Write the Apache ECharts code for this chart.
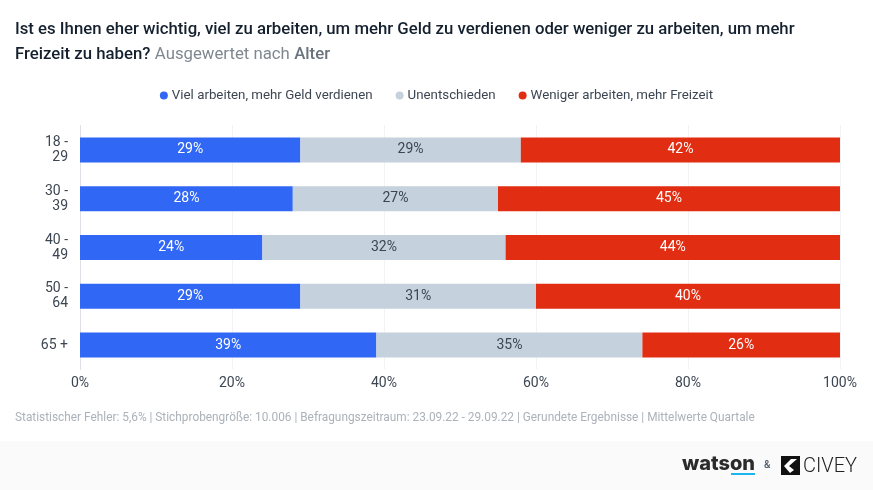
<!DOCTYPE html>
<html>
<head>
<meta charset="utf-8">
<style>
html, body { margin: 0; padding: 0; background: #fff; }
#chart { width: 873px; height: 490px; }
</style>
<script src="https://cdn.jsdelivr.net/npm/echarts@6/dist/echarts.min.js"></script>
</head>
<body>
<div id="chart"></div>
<script>
const categories = ['18 -\n29', '30 -\n39', '40 -\n49', '50 -\n64', '65 +'];
const seriesNames = ['Viel arbeiten, mehr Geld verdienen', 'Unentschieden', 'Weniger arbeiten, mehr Freizeit'];
const mehrGeld = [29, 28, 24, 29, 39];
const unentschieden = [29, 27, 32, 31, 35];
const mehrFreizeit = [42, 45, 44, 40, 26];
const colors = ['#3067f4', '#c5d1dc', '#e12d12'];
const labelColors = ['#ffffff', '#3c4652', '#ffffff'];
const font = 'Roboto';

const footnote = 'Statistischer Fehler: 5,6% | Stichprobengröße: 10.006 | Befragungszeitraum: 23.09.22 - 29.09.22 | Gerundete Ergebnisse | Mittelwerte Quartale';

const chart = echarts.init(document.getElementById('chart'), null, { renderer: 'canvas' });

function barSeries(i, values) {
    return {
        name: seriesNames[i],
        type: 'bar',
        stack: 'total',
        data: values,
        barWidth: 25,
        itemStyle: { color: colors[i] },
        label: {
            show: true,
            position: 'inside',
            formatter: '{c}%',
            fontFamily: font,
            fontSize: 14,
            color: labelColors[i]
        }
    };
}

chart.setOption({
    animation: false,
    backgroundColor: '#ffffff',
    textStyle: { fontFamily: font },
    title: {
        left: 10,
        top: 12,
        text: '{b|Ist es Ihnen eher wichtig, viel zu arbeiten, um mehr Geld zu verdienen oder weniger zu arbeiten, um mehr}\n{b|Freizeit zu haben?} {g|Ausgewertet nach} {m|Alter}',
        textStyle: {
            rich: {
                b: { fontFamily: font, fontSize: 16.75, fontWeight: 500, color: '#14202e', lineHeight: 25 },
                g: { fontFamily: font, fontSize: 16.75, fontWeight: 400, color: '#7f8891', lineHeight: 25 },
                m: { fontFamily: font, fontSize: 16.75, fontWeight: 500, color: '#6a737c', lineHeight: 25 }
            }
        }
    },
    legend: {
        top: 84,
        left: 'center',
        icon: 'circle',
        itemWidth: 8,
        itemHeight: 8,
        itemGap: 23,
        textStyle: { fontFamily: font, fontSize: 13.3, color: '#3c4652', padding: [0, 0, 0, -1] },
        data: seriesNames
    },
    grid: { left: 80, right: 33, top: 125.5, bottom: 120.5 },
    xAxis: {
        type: 'value',
        min: 0,
        max: 100,
        interval: 20,
        axisLine: { show: false },
        axisTick: { show: false },
        axisLabel: { formatter: '{value}%', fontFamily: font, fontSize: 14, color: '#3c4652', margin: 7 },
        splitLine: { show: true, lineStyle: { color: '#e3e7eb', type: 'dotted', width: 1 } }
    },
    yAxis: {
        type: 'category',
        inverse: true,
        data: categories,
        axisLine: { show: true, lineStyle: { color: '#dde1e5', width: 1 } },
        axisTick: { show: false },
        axisLabel: { fontFamily: font, fontSize: 14, color: '#3c4652', lineHeight: 15, margin: 12, align: 'right' }
    },
    series: [
        barSeries(0, mehrGeld),
        barSeries(1, unentschieden),
        barSeries(2, mehrFreizeit)
    ],
    graphic: [
        { type: 'rect', z: -1, shape: { x: 0, y: 441, width: 873, height: 49 }, style: { fill: '#fafafa' } },
        { type: 'text', left: 15, top: 412, style: { text: footnote, fontFamily: font, fontSize: 11.85, fill: '#abb2b9' } },
        { type: 'text', left: 682, top: 454, style: { text: 'watson', fontFamily: 'Inter', fontSize: 20, fontWeight: 800, fill: '#2b2b2b', letterSpacing: -0.6 } },
        { type: 'rect', shape: { x: 731, y: 473, width: 24, height: 2 }, style: { fill: '#1ab5ec' } },
        { type: 'text', left: 764, top: 460, style: { text: '&', fontFamily: font, fontSize: 10, fontWeight: 500, fill: '#4c5a68' } },
        { type: 'rect', shape: { x: 781, y: 456, width: 19, height: 19 }, style: { fill: '#111111' } },
        { type: 'polygon', shape: { points: [[791, 459], [797, 459], [789, 466], [794, 470], [790, 473], [784, 466]] }, style: { fill: '#ffffff' } },
        { type: 'text', left: 803, top: 457, style: { text: 'CIVEY', fontFamily: font, fontSize: 20, fontWeight: 300, fill: '#222222' } }
    ]
});
</script>
</body>
</html>
